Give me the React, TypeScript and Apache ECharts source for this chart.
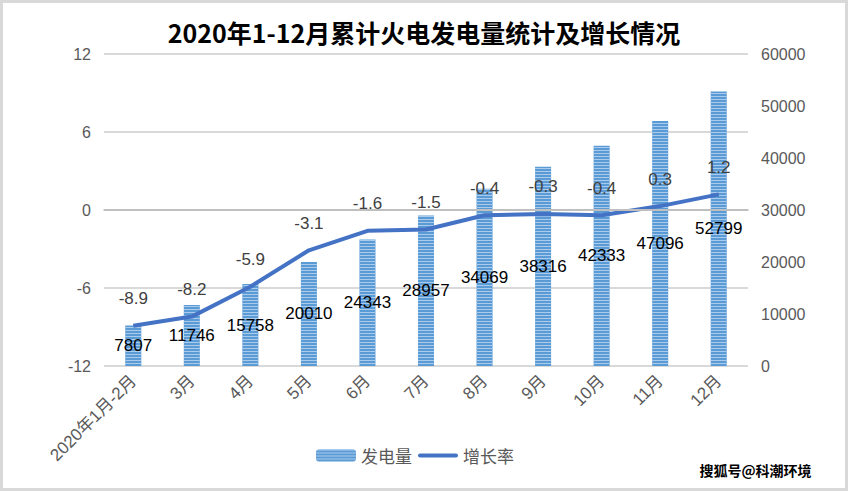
import React, { useEffect, useRef } from "react";
import * as echarts from "echarts";

const categories = ["2020年1月-2月", "3月", "4月", "5月", "6月", "7月", "8月", "9月", "10月", "11月", "12月"];
const generation = [7807, 11746, 15758, 20010, 24343, 28957, 34069, 38316, 42333, 47096, 52799];
const growth = [-8.9, -8.2, -5.9, -3.1, -1.6, -1.5, -0.4, -0.3, -0.4, 0.3, 1.2];
const titleText = "2020年1-12月累计火电发电量统计及增长情况";
const watermark = "搜狐号@科潮环境";

export default function App() {
  const ref = useRef<HTMLDivElement>(null);
  useEffect(() => {
    document.body.style.margin = "0";
    const chart = echarts.init(ref.current!, null, { renderer: "svg" });
    const font = "'Liberation Sans', 'Noto Sans CJK SC', sans-serif";
    const cjk = "'Noto Sans CJK SC', sans-serif";
    chart.setOption({
      animation: false,
      backgroundColor: "#fff",
      textStyle: { fontFamily: font },
      title: {
        text: titleText,
        left: "center",
        top: 14,
        textStyle: { fontSize: 25, fontWeight: "bold", color: "#000", fontFamily: cjk },
      },
      legend: {
        bottom: 22,
        left: 311,
        itemWidth: 40,
        itemHeight: 12,
        itemGap: 6,
        textStyle: { fontSize: 17, color: "#595959", fontFamily: cjk },
        data: [
          { name: "发电量" },
          { name: "增长率", icon: "path://M2,0L38,0A2,2,0,0,1,38,4L2,4A2,2,0,0,1,2,0Z" },
        ],
      },
      grid: { left: 104, right: 100, top: 54, bottom: 125 },
      xAxis: {
        type: "category",
        data: categories,
        axisTick: { show: false },
        axisLine: { show: true, lineStyle: { color: "#d9d9d9", width: 2 } },
        axisLabel: { rotate: 45, interval: 0, color: "#595959", fontSize: 17, margin: 12 },
      },
      yAxis: [
        {
          type: "value",
          min: -12,
          max: 12,
          interval: 6,
          axisLine: { show: false },
          axisTick: { show: false },
          axisLabel: { color: "#595959", fontSize: 16, margin: 13 },
          splitLine: { show: true, lineStyle: { color: "#d9d9d9", width: 2 } },
        },
        {
          type: "value",
          min: 0,
          max: 60000,
          interval: 10000,
          axisLine: { show: false },
          axisTick: { show: false },
          axisLabel: { color: "#595959", fontSize: 16, margin: 13, formatter: (v: number) => String(v) },
          splitLine: { show: false },
        },
      ],
      series: [
        {
          name: "发电量",
          type: "bar",
          yAxisIndex: 1,
          data: generation,
          barWidth: 16,
          itemStyle: {
            color: "#5B9BD5",
            decal: {
              symbol: "rect",
              symbolSize: 1,
              color: "#AACBEC",
              dashArrayX: [10, 0],
              dashArrayY: [1, 2],
              rotation: 0,
            },
          },
          label: { show: true, position: "inside", color: "#000", fontSize: 17 },
          z: 2,
        },
        {
          name: "增长率",
          type: "line",
          yAxisIndex: 0,
          data: growth,
          symbol: "none",
          lineStyle: { color: "#4472C4", width: 4 },
          itemStyle: { color: "#4472C4" },
          markLine: {
            silent: true,
            symbol: "none",
            label: { show: false },
            lineStyle: { color: "#bfbfbf", width: 2, type: "solid" },
            data: [{ yAxis: 0 }],
          },
          z: 3,
        },
        {
          name: "增长率标签",
          type: "line",
          yAxisIndex: 0,
          data: growth,
          symbol: "circle",
          symbolSize: 1,
          showSymbol: true,
          lineStyle: { opacity: 0 },
          itemStyle: { color: "rgba(0,0,0,0)" },
          label: { show: true, position: "top", distance: 18, color: "#404040", fontSize: 17 },
          silent: true,
          z: 4,
        },
      ],
      graphic: [
        {
          type: "rect",
          shape: { x: 1.5, y: 1.5, width: 845, height: 488 },
          style: { fill: "none", stroke: "#d9d9d9", lineWidth: 3 },
          silent: true,
        },
        {
          type: "text",
          left: 698,
          top: 461,
          style: {
            text: watermark,
            fontSize: 14,
            fontWeight: "bold",
            fill: "#000",
            stroke: "#fff",
            lineWidth: 3,
            fontFamily: cjk,
          },
          z: 10,
        },
      ],
    });
    return () => chart.dispose();
  }, []);
  return <div ref={ref} style={{ position: "absolute", left: 0, top: 0, width: 848, height: 491 }} />;
}
